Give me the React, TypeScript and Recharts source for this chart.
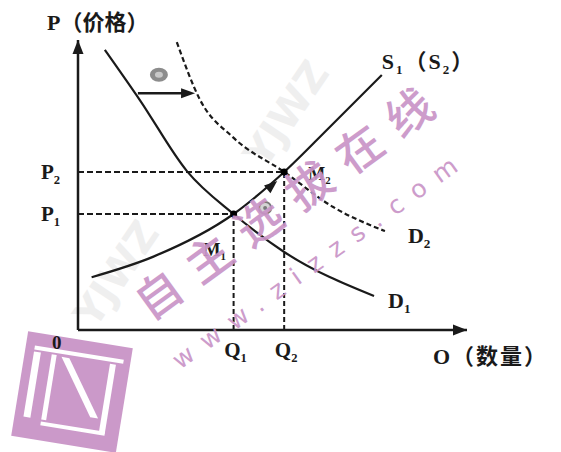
import React from "react";
import {
  LineChart,
  Line,
  XAxis,
  YAxis,
  ReferenceLine,
  ReferenceDot,
} from "recharts";

// curve points (x = quantity, y = price, both 0..100)
const D1_X = [6.9, 15.9, 28, 40, 53, 76.1];
const D1_Y = [96.6, 79.3, 54.8, 40, 26.9, 11.7];
const D2_X = [25.4, 31.4, 39.8, 53, 65.6, 78.9];
const D2_Y = [99.3, 79.3, 66.5, 54.5, 42.4, 34.1];
const S1_X = [3.5, 19.4, 40, 53, 64.8, 78.1];
const S1_Y = [18.2, 25.3, 40, 54.5, 70.1, 87.9];

const Q_TICKS = [40, 53];
const Q_LABELS = ["1", "2"];
const P_TICKS = [40, 54.5];
const P_LABELS = ["1", "2"];

const toPoints = (xs: number[], ys: number[]) => xs.map((x, i) => ({ x, y: ys[i] }));
const d1 = toPoints(D1_X, D1_Y);
const d2 = toPoints(D2_X, D2_Y);
const s1 = toPoints(S1_X, S1_Y);

const INK = "#1a1a1a";
const PINK = "#c994c7";
const FONT = "'Liberation Serif', 'Noto Sans CJK SC', serif";

function Sub({ x, y, base, sub, size = 22, anchor = "start" }: any) {
  return (
    <text x={x} y={y} fontFamily={FONT} fontWeight="bold" fontSize={size} fill={INK} textAnchor={anchor}>
      <tspan>{base}</tspan>
      <tspan fontSize={size * 0.6} dy={size * 0.22}>{sub}</tspan>
    </text>
  );
}

const tag = (node: (cx: number, cy: number) => React.ReactNode) => (p: any) => <g>{node(p.cx, p.cy)}</g>;

const arrowHead = (angle: number, len = 13, half = 5) => (p: any) => (
  <polygon
    points={`0,0 ${-len},${-half} ${-len},${half}`}
    transform={`translate(${p.cx},${p.cy}) rotate(${angle})`}
    fill={INK}
  />
);

function QTick({ x, y, index }: any) {
  return <Sub x={x + 2} y={y + 27} base="Q" sub={Q_LABELS[index]} anchor="middle" size={21} />;
}

function PTick({ x, y, index }: any) {
  return <Sub x={x} y={y + 7} base="P" sub={P_LABELS[index]} anchor="end" size={21} />;
}

// faint grey marks and the pink logo sit under the chart
function BackMarks() {
  return (
    <svg width={561} height={452} style={{ position: "absolute", left: 0, top: 0, pointerEvents: "none" }}>
      <text x={95} y={330} transform="rotate(-56 95 330)" fontFamily="'DejaVu Sans'" fontWeight="bold"
        fontSize={40} fill="#efefef">YJWZ</text>
      <text x={265} y={170} transform="rotate(-56 265 170)" fontFamily="'DejaVu Sans'" fontWeight="bold"
        fontSize={40} fill="#efefef">YJWZ</text>
      <g transform="translate(72 392) rotate(9.2)" opacity={0.95}>
        <rect x={-53} y={-53} width={106} height={106} fill={PINK} />
        <rect x={-44} y={-40} width={90} height={4} fill="#fff" />
        <rect x={-44} y={-34} width={7} height={66} fill="#fff" />
        <rect x={-26} y={-34} width={5} height={66} fill="#fff" />
        <polygon points="-16,-33 -8,-33 30,22 22,22" fill="#fff" />
        <rect x={33} y={-34} width={6} height={70} fill="#fff" />
        <rect x={-26} y={34} width={65} height={4} fill="#fff" />
      </g>
    </svg>
  );
}

// pink site text sits over the chart
function Watermark() {
  return (
    <svg width={561} height={452} style={{ position: "absolute", left: 0, top: 0, pointerEvents: "none" }}>
      <text x={150} y={322} transform="rotate(-36 150 322)" fontFamily="'Noto Sans CJK SC'" fontWeight={500}
        fontSize={46} letterSpacing={16} fill={PINK} opacity={0.92}>
        自主选拔在线
      </text>
      <text x={180} y={370} transform="rotate(-35.6 180 370)" fontFamily="'DejaVu Sans'" fontSize={25}
        letterSpacing={13} fill={PINK} opacity={0.92}>
        www.zizzs.com
      </text>
    </svg>
  );
}

export default function App() {
  return (
    <div style={{ position: "absolute", left: 0, top: 0, width: 561, height: 452, background: "#fff" }}>
      <BackMarks />
      <div style={{ position: "absolute", left: 0, top: 0 }}>
        <LineChart width={561} height={452} margin={{ top: 40, right: 94, bottom: 92, left: 0 }}>
          <XAxis
            type="number"
            dataKey="x"
            domain={[0, 100]}
            ticks={Q_TICKS}
            tick={<QTick />}
            tickLine={false}
            tickSize={0}
            tickMargin={0}
            height={30}
            axisLine={{ stroke: INK, strokeWidth: 2.5 }}
            allowDataOverflow
          />
          <YAxis
            type="number"
            dataKey="y"
            domain={[0, 100]}
            ticks={P_TICKS}
            tick={<PTick />}
            tickLine={false}
            tickSize={0}
            tickMargin={18}
            width={78}
            axisLine={{ stroke: INK, strokeWidth: 2.5 }}
            allowDataOverflow
          />

          {/* dashed guides to the equilibrium points */}
          <ReferenceLine segment={[{ x: 0, y: P_TICKS[0] }, { x: Q_TICKS[0], y: P_TICKS[0] }]} stroke={INK} strokeWidth={2} strokeDasharray="6 3" />
          <ReferenceLine segment={[{ x: 0, y: P_TICKS[1] }, { x: Q_TICKS[1], y: P_TICKS[1] }]} stroke={INK} strokeWidth={2} strokeDasharray="6 3" />
          <ReferenceLine segment={[{ x: Q_TICKS[0], y: 0 }, { x: Q_TICKS[0], y: P_TICKS[0] }]} stroke={INK} strokeWidth={2} strokeDasharray="5 3" />
          <ReferenceLine segment={[{ x: Q_TICKS[1], y: 0 }, { x: Q_TICKS[1], y: P_TICKS[1] }]} stroke={INK} strokeWidth={2} strokeDasharray="5 3" />

          <Line data={d1} dataKey="y" type="monotone" stroke={INK} strokeWidth={2.2} dot={false} isAnimationActive={false} />
          <Line data={d2} dataKey="y" type="monotone" stroke={INK} strokeWidth={2.2} strokeDasharray="5 3" dot={false} isAnimationActive={false} />
          <Line data={s1} dataKey="y" type="monotone" stroke={INK} strokeWidth={2.2} dot={false} isAnimationActive={false} />

          {/* shift arrow ③ */}
          <ReferenceLine segment={[{ x: 15.4, y: 81.6 }, { x: 28, y: 81.6 }]} stroke={INK} strokeWidth={2.5} />
          <ReferenceDot x={30.1} y={81.6} shape={arrowHead(0, 14, 5)} />
          <ReferenceDot
            x={20.8}
            y={88}
            shape={tag((cx, cy) => (
              <g>
                <ellipse cx={cx} cy={cy} rx={9} ry={7} fill="#8c8c8c" />
                <ellipse cx={cx} cy={cy} rx={4} ry={3} fill="#c8c8c8" />
              </g>
            ))}
          />

          {/* movement ④ along the supply curve */}
          <ReferenceDot x={51.2} y={51.4} shape={arrowHead(-40, 13, 5)} />
          <ReferenceDot
            x={48.1}
            y={42.1}
            shape={tag((cx, cy) => (
              <g>
                <circle cx={cx} cy={cy} r={6} fill="#d4d4d4" stroke="#7a7a7a" strokeWidth={2} />
                <circle cx={cx} cy={cy} r={2} fill="#7a7a7a" />
              </g>
            ))}
          />

          {/* equilibrium points */}
          <ReferenceDot x={Q_TICKS[0]} y={P_TICKS[0]} r={3.5} fill="#000" stroke="none" />
          <ReferenceDot x={Q_TICKS[1]} y={P_TICKS[1]} r={3.5} fill="#000" stroke="none" />

          {/* arrow heads on the axes */}
          <ReferenceDot x={100} y={0} shape={arrowHead(0, 14, 5.5)} ifOverflow="visible" />
          <ReferenceDot x={0} y={100} shape={arrowHead(-90, 14, 5.5)} ifOverflow="visible" />

          {/* text labels, anchored on data points */}
          <ReferenceDot x={0} y={100} ifOverflow="visible" shape={tag((cx, cy) => (
            <text x={cx - 31} y={cy - 10} fontFamily={FONT} fontWeight="bold" fontSize={22} fill={INK}>P（价格）</text>
          ))} />
          <ReferenceDot x={100} y={0} ifOverflow="visible" shape={tag((cx, cy) => (
            <text x={cx - 34} y={cy + 34} fontFamily={FONT} fontWeight="bold" fontSize={22} letterSpacing={2} fill={INK}>O（数量）</text>
          ))} />
          <ReferenceDot x={0} y={0} ifOverflow="visible" shape={tag((cx, cy) => (
            <text x={cx - 26} y={cy + 19} fontFamily={FONT} fontWeight="bold" fontSize={19} fill={INK}>0</text>
          ))} />
          <ReferenceDot x={Q_TICKS[0]} y={P_TICKS[0]} shape={tag((cx, cy) => (
            <Sub x={cx - 30} y={cy + 42} base="M" sub="1" size={18} />
          ))} />
          <ReferenceDot x={Q_TICKS[1]} y={P_TICKS[1]} shape={tag((cx, cy) => (
            <Sub x={cx + 24} y={cy + 8} base="M" sub="2" size={18} />
          ))} />
          <ReferenceDot x={D1_X[D1_X.length - 1]} y={D1_Y[D1_Y.length - 1]} shape={tag((cx, cy) => (
            <Sub x={cx + 14} y={cy + 12} base="D" sub="1" size={22} />
          ))} />
          <ReferenceDot x={D2_X[D2_X.length - 1]} y={D2_Y[D2_Y.length - 1]} shape={tag((cx, cy) => (
            <Sub x={cx + 23} y={cy + 12} base="D" sub="2" size={22} />
          ))} />
          <ReferenceDot x={S1_X[S1_X.length - 1]} y={S1_Y[S1_Y.length - 1]} shape={tag((cx, cy) => (
            <text x={cx} y={cy - 6} fontFamily={FONT} fontWeight="bold" fontSize={22} letterSpacing={2} fill={INK}>
              <tspan>S</tspan>
              <tspan fontSize={13} dy={5}>1</tspan>
              <tspan dy={-5}>（S</tspan>
              <tspan fontSize={13} dy={5}>2</tspan>
              <tspan dy={-5}>）</tspan>
            </text>
          ))} />
        </LineChart>
      </div>
      <Watermark />
    </div>
  );
}
